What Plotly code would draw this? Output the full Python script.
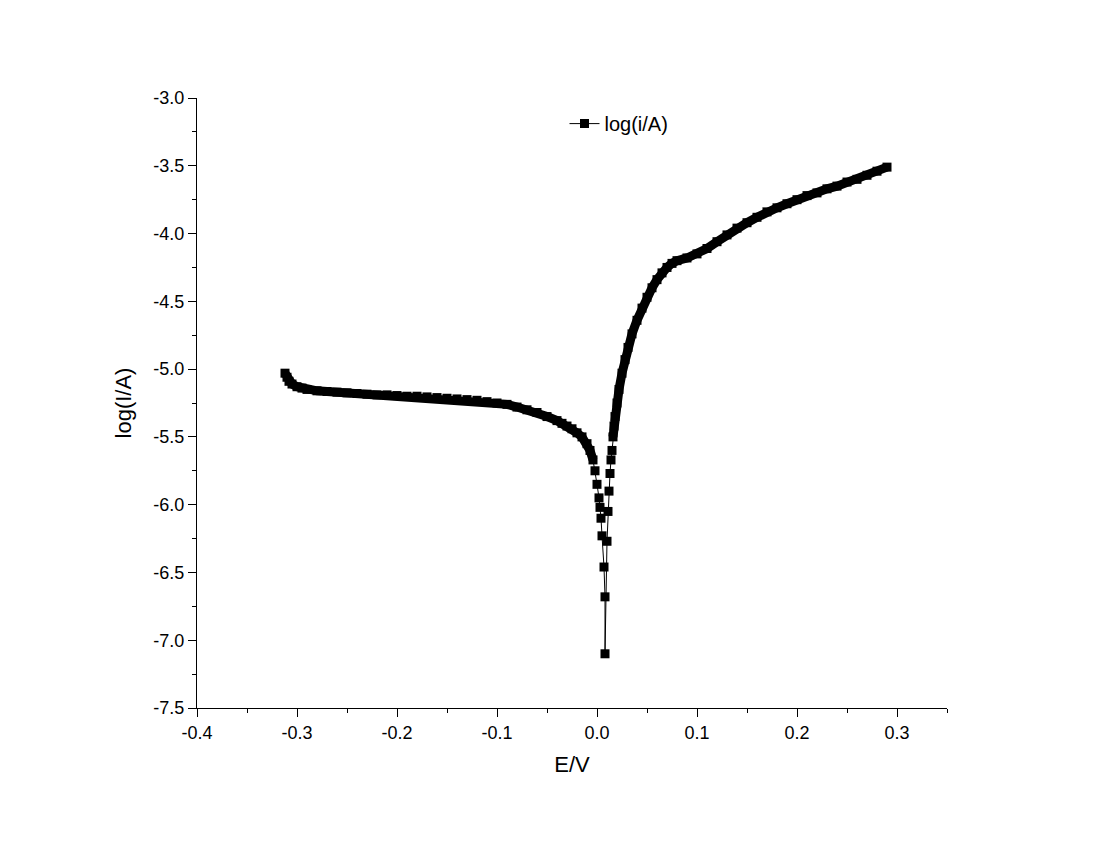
import plotly.graph_objects as go

E_cath = [-0.312,-0.310,-0.308,-0.305,-0.300,-0.295,-0.29,-0.28,-0.27,-0.26,-0.25,-0.24,-0.23,-0.22,-0.21,-0.20,-0.19,-0.18,-0.17,-0.16,-0.15,-0.14,-0.13,-0.12,-0.11,-0.10,-0.09,-0.08,-0.07,-0.06,-0.05,-0.04,-0.035,-0.03,-0.025,-0.02,-0.015,-0.01,-0.007,-0.004,-0.002,0.000,0.002,0.003,0.004,0.005,0.007,0.008,0.008]
logI_cath = [-5.03,-5.06,-5.09,-5.11,-5.13,-5.14,-5.15,-5.16,-5.165,-5.17,-5.175,-5.18,-5.185,-5.19,-5.19,-5.195,-5.20,-5.20,-5.205,-5.21,-5.215,-5.22,-5.225,-5.23,-5.24,-5.25,-5.26,-5.28,-5.30,-5.32,-5.35,-5.38,-5.40,-5.42,-5.44,-5.47,-5.50,-5.55,-5.60,-5.67,-5.75,-5.85,-5.95,-6.02,-6.10,-6.23,-6.46,-6.68,-7.10]
E_anod = [0.010,0.011,0.012,0.013,0.014,0.015,0.016,0.017,0.018,0.020,0.022,0.025,0.028,0.031,0.035,0.04,0.045,0.05,0.055,0.06,0.065,0.07,0.075,0.08,0.09,0.10,0.11,0.12,0.13,0.14,0.15,0.16,0.17,0.18,0.19,0.20,0.21,0.22,0.23,0.24,0.25,0.26,0.27,0.28,0.29]
logI_anod = [-6.27,-6.05,-5.90,-5.77,-5.67,-5.60,-5.50,-5.42,-5.35,-5.25,-5.15,-5.03,-4.93,-4.84,-4.74,-4.64,-4.55,-4.47,-4.40,-4.34,-4.29,-4.25,-4.22,-4.20,-4.18,-4.15,-4.11,-4.06,-4.01,-3.96,-3.92,-3.88,-3.84,-3.81,-3.78,-3.75,-3.72,-3.70,-3.67,-3.65,-3.62,-3.60,-3.57,-3.54,-3.51]

x_ticks = [-0.4, -0.3, -0.2, -0.1, 0.0, 0.1, 0.2, 0.3]
y_ticks = [-7.5, -7.0, -6.5, -6.0, -5.5, -5.0, -4.5, -4.0, -3.5, -3.0]

E = E_cath + E_anod
logI = logI_cath + logI_anod

fig = go.Figure()
# dense band (continuous measured curve) behind markers
fig.add_trace(go.Scatter(x=E_cath[:40], y=logI_cath[:40], mode="lines", showlegend=False,
                         line=dict(color="black", width=9), hoverinfo="skip"))
fig.add_trace(go.Scatter(x=E_anod[6:], y=logI_anod[6:], mode="lines", showlegend=False,
                         line=dict(color="black", width=9), hoverinfo="skip"))
fig.add_trace(go.Scatter(
    x=E, y=logI, mode="lines+markers", name="log(i/A)", showlegend=True,
    line=dict(color="black", width=1),
    marker=dict(symbol="square", size=9, color="black")))

tf = dict(family="Liberation Sans, Arial", size=18, color="black")
titlef = dict(family="Liberation Sans, Arial", size=22, color="black")
common = dict(showgrid=False, zeroline=False, showline=True, linecolor="black", linewidth=1,
              ticks="outside", ticklen=8, tickcolor="black", tickfont=tf)
fig.update_xaxes(range=[-0.4, 0.35], tickvals=x_ticks,
                 ticktext=[f"{v:.1f}".replace("-0.0", "0.0") for v in x_ticks],
                 minor=dict(ticks="outside", dtick=0.05, tick0=-0.4, ticklen=4, tickcolor="black"),
                 title=dict(text="E/V", font=titlef), **common)
fig.update_yaxes(range=[-7.5, -3.0], tickvals=y_ticks, ticktext=[f"{v:.1f}" for v in y_ticks],
                 minor=dict(ticks="outside", dtick=0.25, tick0=-7.5, ticklen=4, tickcolor="black"),
                 title=dict(text="log(I/A)", font=titlef), **common)
fig.update_layout(width=1100, height=850, plot_bgcolor="white", paper_bgcolor="white",
                  margin=dict(l=189, r=161, t=90, b=150),
                  legend=dict(x=0.49, y=0.99, xanchor="left", yanchor="top",
                              font=dict(family="Liberation Sans, Arial", size=20, color="black"),
                              bgcolor="rgba(0,0,0,0)"))
fig.write_html("out.html")
